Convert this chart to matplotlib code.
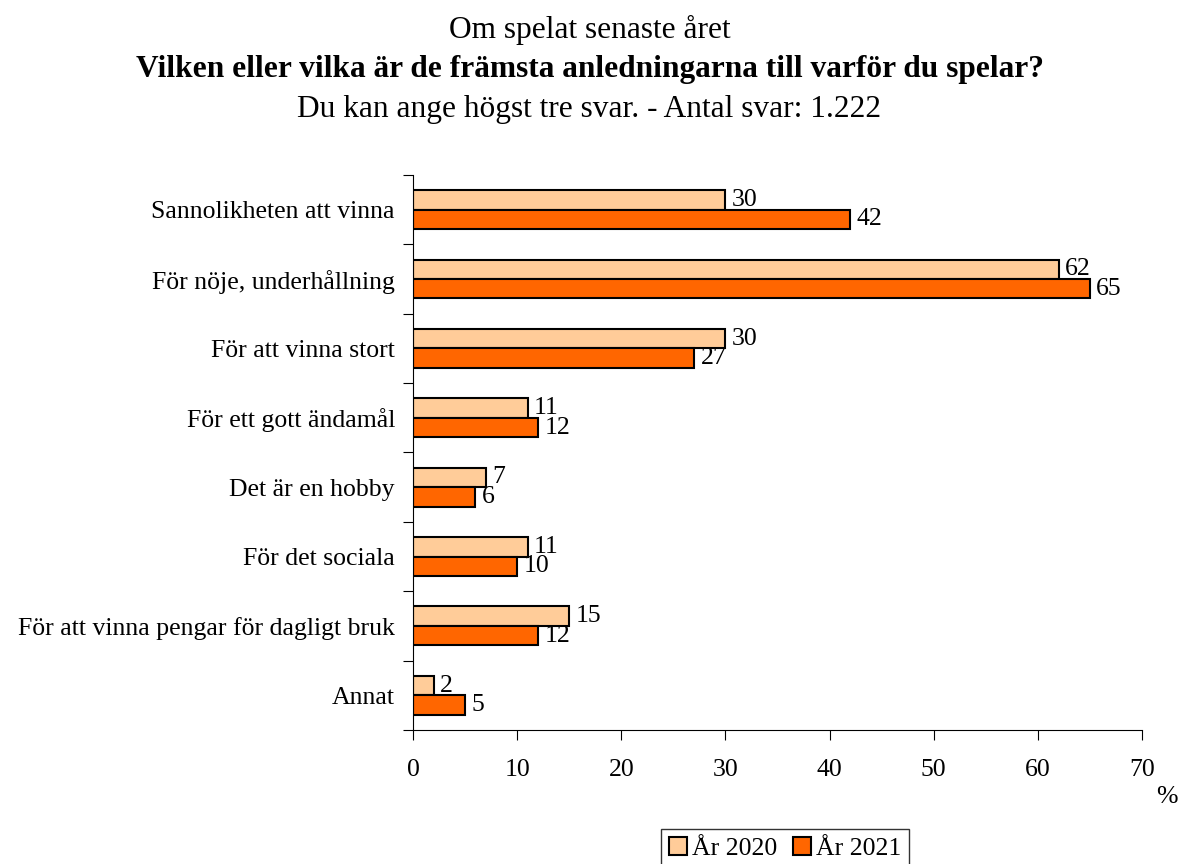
import numpy as np
import matplotlib
matplotlib.use("Agg")
import matplotlib.pyplot as plt

categories = ["Sannolikheten att vinna", "För nöje, underhållning", "För att vinna stort",
              "För ett gott ändamål", "Det är en hobby", "För det sociala",
              "För att vinna pengar för dagligt bruk", "Annat"]
values_2020 = [30, 62, 30, 11, 7, 11, 15, 2]
values_2021 = [42, 65, 27, 12, 6, 10, 12, 5]
series_names = ["År 2020", "År 2021"]
xticks = [0, 10, 20, 30, 40, 50, 60, 70]

plt.rcParams['font.family'] = ['Liberation Serif', 'DejaVu Serif']

fig = plt.figure(figsize=(11.79, 8.64), dpi=100)
ax = fig.add_axes([0.3503, 0.1551, 0.6183, 0.6424])

y = np.arange(len(categories))
h = 0.28
b1 = ax.barh(y - h / 2, values_2020, height=h, color="#FFCC99", edgecolor="black", linewidth=1.5, label=series_names[0])
b2 = ax.barh(y + h / 2, values_2021, height=h, color="#FF6600", edgecolor="black", linewidth=1.5, label=series_names[1])

for bars, vals in ((b1, values_2020), (b2, values_2021)):
    for rect, v in zip(bars, vals):
        ax.text(v + 0.6, rect.get_y() + rect.get_height() / 2, str(v),
                va="center", ha="left", fontsize=18.5)

ax.set_xlim(0, 70)
ax.set_ylim(len(categories) - 0.5, -0.5)
ax.set_xticks(xticks)
ax.set_xticklabels([str(t) for t in xticks], fontsize=18.5)
ax.tick_params(axis="x", direction="out", length=7, pad=14)

ax.set_yticks(np.arange(len(categories) + 1) - 0.5)
ax.set_yticklabels([])
ax.set_yticks(y, minor=True)
ax.set_yticklabels(categories, minor=True, fontsize=18.5)
ax.tick_params(axis="y", which="major", direction="out", length=7)
ax.tick_params(axis="y", which="minor", length=0, pad=13)

ax.spines["top"].set_visible(False)
ax.spines["right"].set_visible(False)

fig.text(0.5, 0.9653, "Om spelat senaste året", ha="center", va="center", fontsize=22.6)
fig.text(0.5, 0.919, "Vilken eller vilka är de främsta anledningarna till varför du spelar?",
         ha="center", va="center", fontsize=22.6, fontweight="bold")
fig.text(0.5, 0.8727, "Du kan ange högst tre svar. - Antal svar: 1.222", ha="center", va="center", fontsize=22.6)
fig.text(0.999, 0.0775, "%", ha="right", va="center", fontsize=18.5)

leg = fig.legend(handles=[b1, b2], labels=series_names, loc="upper center",
                 bbox_to_anchor=(0.666, 0.0405), borderaxespad=0, ncol=2, fontsize=18.5,
                 frameon=True, fancybox=False, edgecolor="black", handlelength=0.7,
                 handleheight=0.7, handletextpad=0.2, columnspacing=0.6, borderpad=0.3)
leg.get_frame().set_linewidth(1.0)

fig.savefig("out.png", dpi=100)
